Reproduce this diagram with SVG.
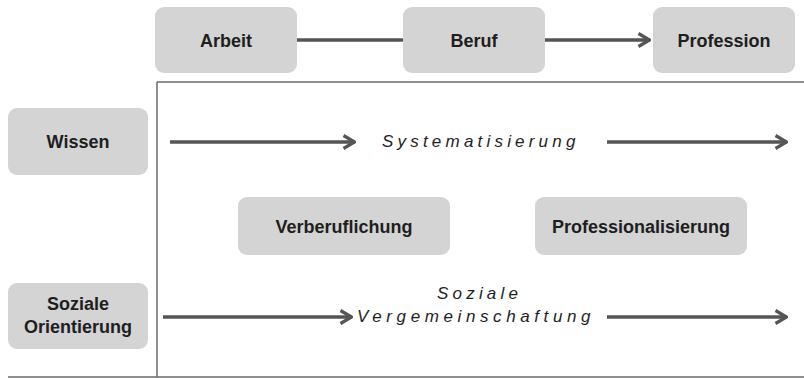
<svg xmlns="http://www.w3.org/2000/svg" width="804" height="378" viewBox="0 0 804 378">
<defs>
<marker id="chev" viewBox="0 0 14 16" refX="13" refY="8" markerWidth="14" markerHeight="16" markerUnits="userSpaceOnUse" orient="auto">
<path d="M1.5,1.5 L12.5,8 L1.5,14.5" fill="none" stroke="#555" stroke-width="3.2" stroke-linejoin="miter"/>
</marker>
</defs>
<style>
.box{fill:#d4d4d4;}
.lbl{font-family:"Liberation Sans",Arial,sans-serif;font-weight:bold;font-size:18px;fill:#1e1e1e;text-anchor:middle;}
.it{font-family:"Liberation Sans",Arial,sans-serif;font-style:italic;font-size:17px;fill:#1e1e1e;letter-spacing:4.2px;}
.arr{stroke:#555;stroke-width:3.5;fill:none;}
.frame{stroke:#6a6a6a;stroke-width:1.5;fill:none;}
</style>
<rect width="804" height="378" fill="#fff"/>
<g id="frame">
<line class="frame" x1="157" y1="82" x2="804" y2="82"/>
<line class="frame" x1="157" y1="82" x2="157" y2="377"/>
<line class="frame" x1="8" y1="377" x2="804" y2="377"/>
</g>
<g id="connectors">
<line class="arr" x1="297" y1="40" x2="403" y2="40"/>
<line class="arr" x1="545" y1="40" x2="650" y2="40" marker-end="url(#chev)"/>
<line class="arr" x1="170" y1="142" x2="355" y2="142" marker-end="url(#chev)"/>
<line class="arr" x1="607" y1="142" x2="787" y2="142" marker-end="url(#chev)"/>
<line class="arr" x1="163" y1="317" x2="352" y2="317" marker-end="url(#chev)"/>
<line class="arr" x1="607" y1="317" x2="787" y2="317" marker-end="url(#chev)"/>
</g>
<g id="arbeit"><rect class="box" x="155" y="7" width="142" height="66" rx="9"/><text class="lbl" x="226" y="47">Arbeit</text></g>
<g id="beruf"><rect class="box" x="403" y="7" width="142" height="66" rx="9"/><text class="lbl" x="474" y="47">Beruf</text></g>
<g id="profession"><rect class="box" x="653" y="7" width="142" height="66" rx="9"/><text class="lbl" x="724" y="47">Profession</text></g>
<g id="wissen"><rect class="box" x="8" y="108" width="140" height="67" rx="9"/><text class="lbl" x="78" y="148">Wissen</text></g>
<g id="soziale-orientierung"><rect class="box" x="8" y="283" width="140" height="66" rx="9"/><text class="lbl" x="78" y="310">Soziale</text><text class="lbl" x="78" y="333">Orientierung</text></g>
<g id="verberuflichung"><rect class="box" x="238" y="197" width="212" height="58" rx="9"/><text class="lbl" x="344" y="233">Verberuflichung</text></g>
<g id="professionalisierung"><rect class="box" x="535" y="197" width="212" height="58" rx="9"/><text class="lbl" x="641" y="233">Professionalisierung</text></g>
<g id="labels">
<text class="it" x="382" y="147">Systematisierung</text>
<text class="it" x="437" y="299">Soziale</text>
<text class="it" x="357" y="322" style="letter-spacing:4.6px">Vergemeinschaftung</text>
</g>
</svg>
